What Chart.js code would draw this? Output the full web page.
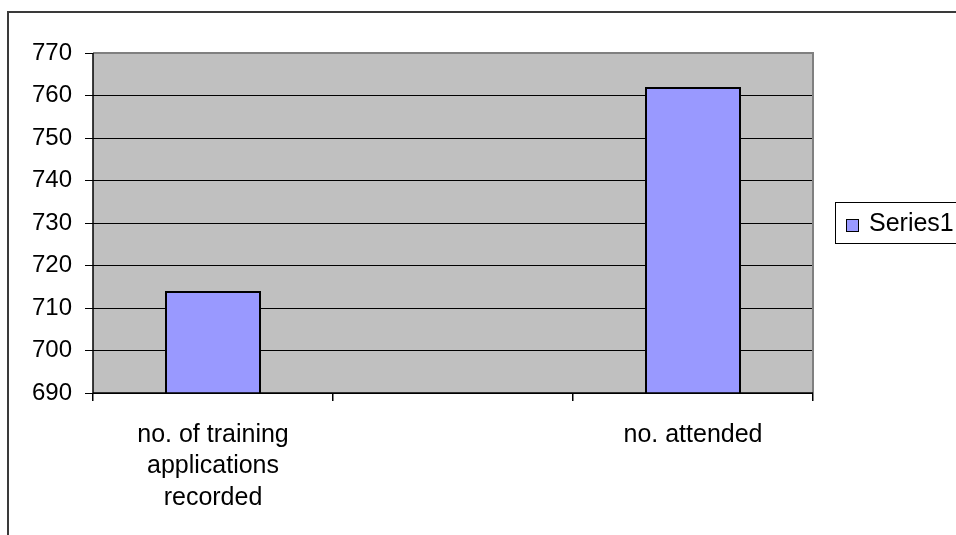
<!DOCTYPE html>
<html lang="en">
<head>
  <meta charset="UTF-8" />
  <title>Training applications</title>
  <script src="https://cdn.jsdelivr.net/npm/chart.js"></script>
  <style>
    * { margin: 0; padding: 0; box-sizing: border-box; }
    body { background: #fff; width: 956px; height: 535px; overflow: hidden; }
    #wrap { position: relative; width: 956px; height: 535px; }
  </style>
</head>
<body>
  <div id="wrap"><canvas id="chart" width="956" height="535"></canvas></div>

  <script>
    // the middle category is blank on purpose (empty slot between the two bars)
    const categories = [['no. of training', 'applications', 'recorded'], '', 'no. attended'];
    const seriesName = 'Series1';
    const seriesValues = [714, null, 762];
    const yMin = 690;
    const yMax = 770;
    const yStep = 10;

    const fontFamily = '"Liberation Sans", Arial, sans-serif';

    // grey plot background, frame around the whole chart, and the legend box
    const excelLook = {
      id: 'excelLook',
      beforeDraw(chart) {
        const { ctx, chartArea: a } = chart;
        ctx.save();
        ctx.fillStyle = '#fff';
        ctx.fillRect(0, 0, chart.width, chart.height);
        ctx.fillStyle = '#c0c0c0';
        ctx.fillRect(a.left, a.top, a.right - a.left, a.bottom - a.top);
        ctx.restore();
      },
      afterDatasetsDraw(chart) {
        const { ctx, chartArea: a } = chart;
        ctx.save();
        // plot border, top and right
        ctx.strokeStyle = '#808080';
        ctx.lineWidth = 2;
        ctx.beginPath();
        ctx.moveTo(a.left, a.top);
        ctx.lineTo(a.right, a.top);
        ctx.lineTo(a.right, a.bottom);
        ctx.stroke();
        // axis lines
        ctx.strokeStyle = '#000';
        ctx.lineWidth = 1.5;
        ctx.beginPath();
        ctx.moveTo(a.left, a.top);
        ctx.lineTo(a.left, a.bottom);
        ctx.lineTo(a.right, a.bottom);
        ctx.stroke();
        ctx.restore();
      },
      afterDraw(chart) {
        const { ctx } = chart;
        ctx.save();
        // outer chart frame
        ctx.strokeStyle = '#3a3a3a';
        ctx.lineWidth = 2;
        ctx.strokeRect(8, 12, chart.width + 10, chart.height + 10);
        // legend
        const ds = chart.data.datasets[0];
        ctx.fillStyle = '#fff';
        ctx.fillRect(835, 202, 140, 41);
        ctx.strokeStyle = '#000';
        ctx.lineWidth = 1;
        ctx.strokeRect(835.5, 202.5, 140, 41);
        ctx.fillStyle = ds.backgroundColor;
        ctx.fillRect(846, 219, 13, 13);
        ctx.strokeRect(846.5, 219.5, 12, 12);
        ctx.fillStyle = '#000';
        ctx.font = '25px ' + fontFamily;
        ctx.textBaseline = 'middle';
        ctx.fillText(ds.label, 869, 224);
        ctx.restore();
      }
    };

    new Chart(document.getElementById('chart'), {
      type: 'bar',
      data: {
        labels: categories,
        datasets: [{
          label: seriesName,
          data: seriesValues,
          backgroundColor: '#9999ff',
          borderColor: '#000',
          borderWidth: 2,
          borderSkipped: 'bottom',
          barPercentage: 1,
          categoryPercentage: 0.4
        }]
      },
      options: {
        responsive: false,
        animation: false,
        layout: { padding: { top: 53, right: 143, left: 0, bottom: 0 } },
        plugins: { legend: { display: false }, tooltip: { enabled: false } },
        scales: {
          x: {
            offset: true,
            border: { display: false },
            grid: {
              offset: true,
              drawOnChartArea: false,
              drawTicks: true,
              tickLength: 8,
              color: '#000',
              lineWidth: 1.5
            },
            ticks: {
              color: '#000',
              padding: 18,
              maxRotation: 0,
              autoSkip: false,
              font: { family: fontFamily, size: 25, lineHeight: 1.26 }
            },
            afterFit(scale) { scale.height = 142; }
          },
          y: {
            min: yMin,
            max: yMax,
            border: { display: false },
            grid: {
              color: '#000',
              lineWidth: 1,
              drawTicks: true,
              tickLength: 8
            },
            ticks: {
              stepSize: yStep,
              color: '#000',
              padding: 13,
              font: { family: fontFamily, size: 24 }
            },
            afterFit(scale) { scale.width = 93; }
          }
        }
      },
      plugins: [excelLook]
    });
  </script>
</body>
</html>
